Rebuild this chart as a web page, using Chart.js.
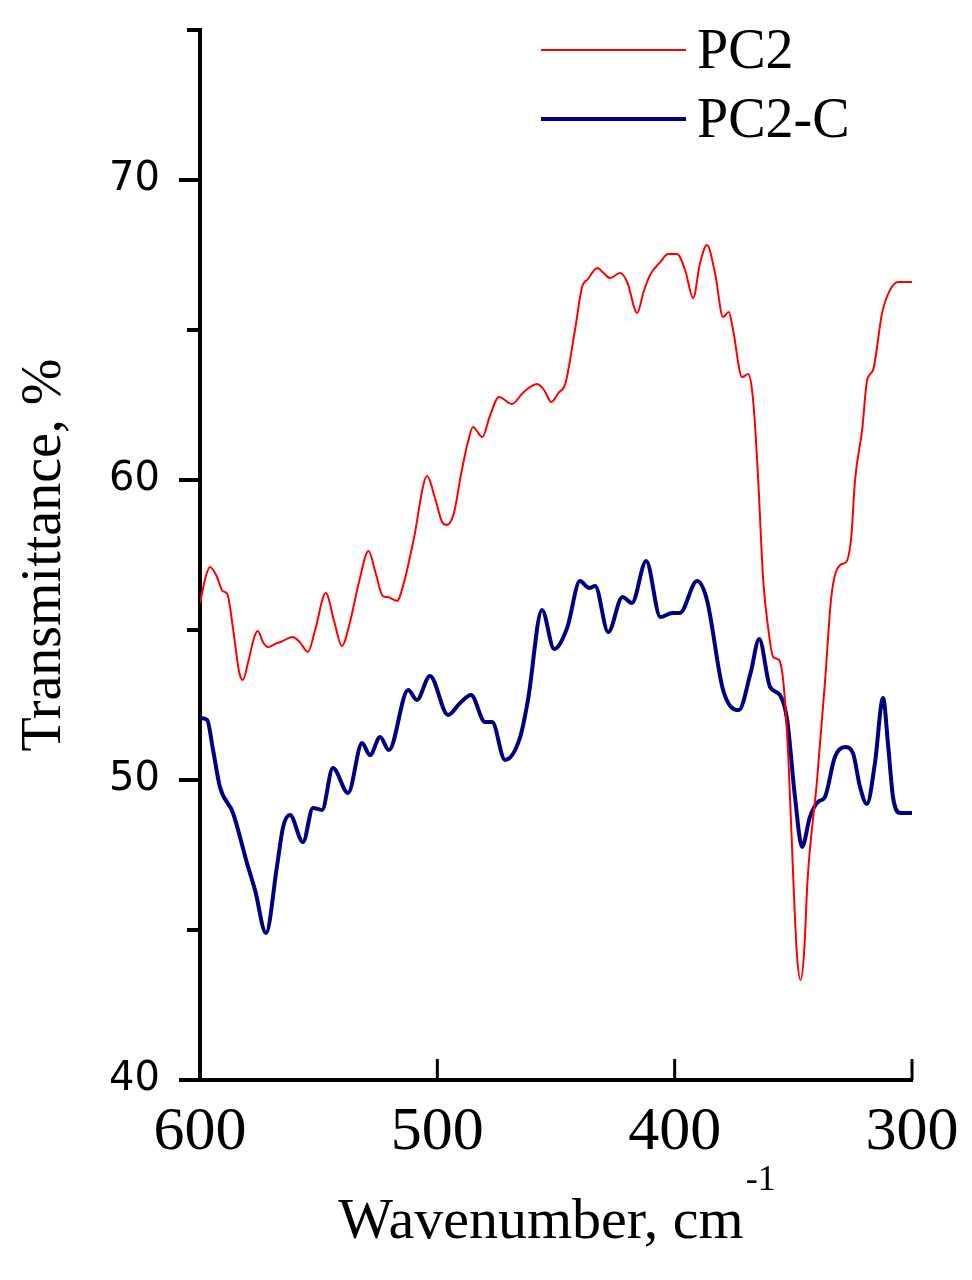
<!DOCTYPE html>
<html lang="en">
<head>
    <meta charset="UTF-8">
    <title>Transmittance PC2 / PC2-C</title>
    <script src="https://cdn.jsdelivr.net/npm/chart.js"></script>
    <style>
        body { margin: 0; background: #fff; }
        canvas { display: block; }
    </style>
</head>
<body>
    <canvas id="graficoIR" width="972" height="1280"></canvas>
    <script>
        const pc2Wavenumber = [600, 597.5, 595.8, 593, 590.5, 588.5, 586, 583.5, 582, 579.5, 577, 575.6, 573.5, 571.3, 568, 566,
            561, 558, 554.5, 551.5, 547, 543.5, 540.2, 537, 533, 529, 526, 523, 521, 517, 514, 510, 504.3, 501, 498, 496,
            493, 490, 487, 485, 481, 478, 474, 468.5, 464, 458, 455, 452, 449, 446, 442, 439, 436.5, 432.6, 430, 427.2,
            423, 420, 415.8, 413, 410.4, 406, 402.8, 399, 395.6, 392.2, 389.3, 386.4, 383, 379.6, 377.2, 375.4, 371.6,
            369, 367.4, 366, 364.8, 362.7, 360.5, 358.5, 356, 354, 352, 350, 348.5, 347, 345.5, 344, 340, 336.6, 334,
            330.3, 327.7, 325.6, 324, 321, 318.9, 316.4, 312.6, 309.3, 305.8, 300];
        const pc2Values = [55.9, 56.8, 57.1, 56.8, 56.3, 56.2, 55.0, 53.6, 53.33, 54.0, 54.8, 54.97, 54.6, 54.43, 54.55, 54.6,
            54.77, 54.6, 54.27, 55.0, 56.23, 55.3, 54.47, 55.2, 56.6, 57.63, 56.9, 56.13, 56.1, 55.97, 56.6, 58.0, 60.13, 59.4, 58.6, 58.5,
            58.9, 60.2, 61.3, 61.77, 61.43, 62.1, 62.77, 62.53, 62.9, 63.2, 63.0, 62.6, 62.9, 63.23, 65.0, 66.43, 66.7, 67.07, 66.9, 66.73,
            66.9, 66.6, 65.57, 66.3, 66.83, 67.27, 67.53, 67.53, 67.0, 66.07, 67.23, 67.83, 66.9, 65.43, 65.6, 65.0, 63.43,
            63.53, 63.0, 61.67, 60.0, 56.67, 55.0, 54.1, 54.0, 53.1, 50.57, 46.67, 44.2, 43.33, 44.2, 46.67, 50.0, 53.33, 56.1,
            57.17, 57.27, 58.1, 60.0, 61.67, 63.33, 63.67, 65.57, 66.33, 66.6, 66.6];

        const pc2cWavenumber = [600, 597, 594.5, 591.6, 586.1, 580.2, 576.8, 572.2, 567.6, 565, 562.1, 556.6, 552.4, 548.6, 544,
            537.6, 531.7, 528.4, 524.1, 520.4, 512.3, 508.6, 503.1, 495.5, 490.4, 485.8, 479.9, 476.9, 471.5, 465.1, 461.8,
            455.9, 450.8, 445.3, 439.9, 436, 433.5, 428, 422, 418, 412, 406, 401, 397.8, 390.6, 386.4, 379.6, 373, 368,
            364.4, 359.8, 355.6, 352.6, 349.3, 346.3, 343, 339.6, 336.7, 332.5, 328.2, 324.9, 321.9, 319, 315.6, 312.2,
            310, 308, 305, 300];
        const pc2cValues = [52.07, 52.0, 51.0, 49.77, 48.9, 47.23, 46.33, 44.9, 47.1, 48.43, 48.83, 47.93, 49.07, 49.0, 50.4,
            49.57, 51.23, 50.83, 51.43, 51.0, 53.0, 52.67, 53.47, 52.17, 52.57, 52.83, 51.93, 51.93, 50.67, 51.43, 52.67,
            55.67, 54.37, 55.07, 56.63, 56.4, 56.47, 54.93, 56.1, 55.9, 57.3, 55.43, 55.57, 55.57, 56.63, 56.0, 53.0, 52.33, 53.57,
            54.7, 53.1, 52.83, 52.0, 49.43, 47.77, 48.77, 49.27, 49.43, 50.77, 51.1, 50.9, 49.77, 49.2, 50.57, 52.73,
            51.1, 49.43, 48.9, 48.9];

        const xTicks = [600, 500, 400, 300];
        const yTicks = [40, 50, 60, 70];
        const yMinorTicks = [45, 55, 65, 75];
        const seriesNames = ['PC2', 'PC2-C'];

        const serif = '"Liberation Serif", "Times New Roman", serif';

        function toPoints(xs, ys) {
            return xs.map((x, i) => ({ x: x, y: ys[i] }));
        }

        // Marcas de los ejes, leyenda y título del eje X
        const decoraciones = {
            id: 'decoraciones',
            afterDraw(chart) {
                const ctx = chart.ctx;
                const xs = chart.scales.x;
                const ys = chart.scales.y;
                const area = chart.chartArea;
                ctx.save();
                ctx.strokeStyle = '#000';
                ctx.lineCap = 'butt';

                // ticks del eje Y (hacia fuera)
                ctx.lineWidth = 4;
                yTicks.concat(yMinorTicks).forEach(v => {
                    const py = ys.getPixelForValue(v);
                    const len = yTicks.includes(v) ? 21 : 13;
                    ctx.beginPath();
                    ctx.moveTo(area.left - len, py);
                    ctx.lineTo(area.left, py);
                    ctx.stroke();
                });

                // ticks del eje X (hacia dentro)
                ctx.lineWidth = 3;
                xTicks.forEach(v => {
                    const px = xs.getPixelForValue(v);
                    ctx.beginPath();
                    ctx.moveTo(px, area.bottom);
                    ctx.lineTo(px, area.bottom - 21);
                    ctx.stroke();
                });

                // título del eje X con superíndice
                ctx.fillStyle = '#000';
                ctx.textBaseline = 'alphabetic';
                const base = 'Wavenumber, cm';
                ctx.font = '36px ' + serif;
                const supW = ctx.measureText('-1').width;
                ctx.font = '58px ' + serif;
                const baseW = ctx.measureText(base).width;
                const cx = (area.left + area.right) / 2;
                const startX = cx - (baseW + supW) / 2;
                ctx.textAlign = 'left';
                ctx.fillText(base, startX, 1238);
                ctx.font = '36px ' + serif;
                ctx.fillText('-1', startX + baseW + 2, 1190);

                // leyenda
                const colores = chart.data.datasets.map(d => d.borderColor);
                const anchos = chart.data.datasets.map(d => d.borderWidth);
                const filas = [50, 119];
                ctx.font = '56px ' + serif;
                ctx.textBaseline = 'middle';
                seriesNames.forEach((name, i) => {
                    ctx.strokeStyle = colores[i];
                    ctx.lineWidth = anchos[i];
                    ctx.beginPath();
                    ctx.moveTo(541, filas[i]);
                    ctx.lineTo(686, filas[i]);
                    ctx.stroke();
                    ctx.fillText(name, 697, filas[i] + 3);
                });
                ctx.restore();
            }
        };

        new Chart(document.getElementById('graficoIR'), {
            type: 'line',
            data: {
                datasets: [{
                    label: seriesNames[0],
                    data: toPoints(pc2Wavenumber, pc2Values),
                    borderColor: '#ff0000',
                    borderWidth: 2,
                    pointRadius: 0,
                    cubicInterpolationMode: 'monotone'
                }, {
                    label: seriesNames[1],
                    data: toPoints(pc2cWavenumber, pc2cValues),
                    borderColor: '#000080',
                    borderWidth: 4,
                    pointRadius: 0,
                    cubicInterpolationMode: 'monotone'
                }]
            },
            options: {
                responsive: false,
                animation: false,
                devicePixelRatio: 1,
                layout: { padding: { top: 30, right: 60, left: 0, bottom: 0 } },
                plugins: {
                    legend: { display: false },
                    tooltip: { enabled: false }
                },
                scales: {
                    x: {
                        type: 'linear',
                        reverse: true,
                        min: 300,
                        max: 600,
                        afterFit(scale) {
                            scale.height = 200;
                            scale.paddingLeft = 0;
                            scale.paddingRight = 0;
                        },
                        afterBuildTicks(scale) { scale.ticks = xTicks.map(v => ({ value: v })); },
                        grid: { display: false, drawTicks: false },
                        border: { display: true, color: '#000', width: 4 },
                        ticks: {
                            color: '#000',
                            font: { family: serif, size: 62 },
                            padding: 16,
                            maxRotation: 0
                        }
                    },
                    y: {
                        min: 40,
                        max: 75,
                        afterFit(scale) {
                            scale.width = 200;
                            scale.paddingTop = 0;
                            scale.paddingBottom = 0;
                        },
                        afterBuildTicks(scale) { scale.ticks = yTicks.map(v => ({ value: v })); },
                        grid: { display: false, drawTicks: false },
                        border: { display: true, color: '#000', width: 4 },
                        ticks: {
                            color: '#000',
                            font: { family: '"DejaVu Sans", sans-serif', size: 40 },
                            padding: 40
                        },
                        title: {
                            display: true,
                            text: 'Transmittance, %',
                            color: '#000',
                            font: { family: serif, size: 56 },
                            padding: { top: 12, bottom: 0 }
                        }
                    }
                }
            },
            plugins: [decoraciones]
        });
    </script>
</body>
</html>
